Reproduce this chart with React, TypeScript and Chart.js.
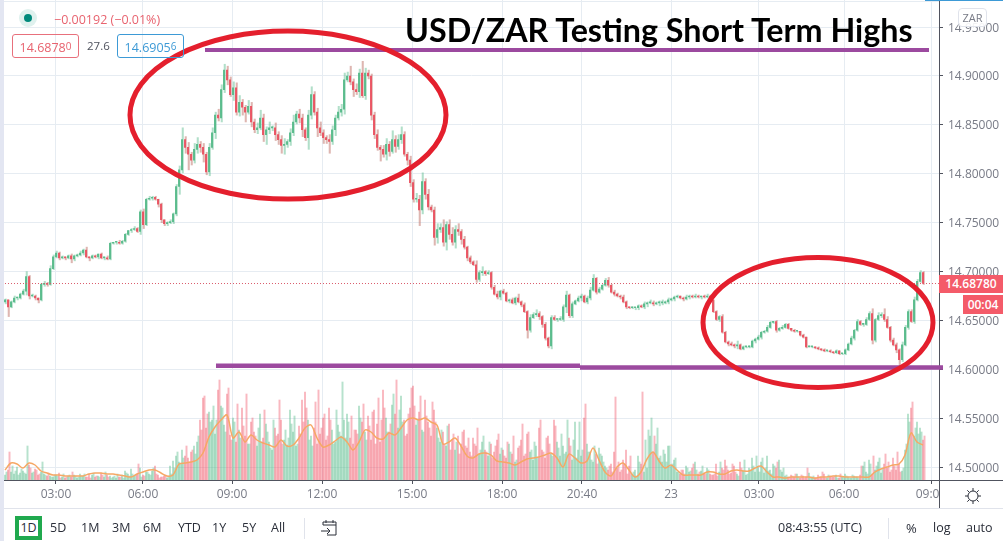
import React, { useEffect, useRef } from "react";
import { Chart, registerables } from "chart.js";

Chart.register(...registerables);

// one candle per slot; every candle opens where the one before closed
const closes = [
14.671,14.664,14.669,14.673,14.673,14.677,14.680,14.695,14.675,14.675,14.673,14.671,14.687,14.688,14.687,14.703,14.715,
14.719,14.714,14.715,14.714,14.716,14.713,14.716,14.717,14.719,14.722,14.715,14.714,14.716,14.715,14.718,14.714,14.714,14.713,
14.729,14.730,14.730,14.729,14.731,14.738,14.742,14.743,14.744,14.741,14.761,14.748,
14.774,14.775,14.776,14.774,14.769,14.753,14.749,14.750,14.751,14.759,
14.787,14.804,14.835,14.827,14.820,14.814,14.825,14.830,14.827,14.820,14.802,14.827,14.842,14.860,14.857,14.886,
14.906,14.896,14.881,14.888,14.863,14.873,14.868,14.863,14.869,14.853,14.845,14.847,14.857,14.840,14.845,14.847,14.847,14.840,
14.835,14.829,14.830,14.833,14.842,14.853,14.861,14.857,14.845,14.837,14.860,14.881,14.863,14.847,14.842,14.837,14.835,14.833,
14.845,14.857,14.863,14.866,14.896,14.900,14.894,14.886,14.884,14.903,14.880,14.903,14.900,14.860,
14.840,14.827,14.825,14.820,14.830,14.823,14.835,14.828,14.835,14.840,14.820,14.814,14.791,14.774,14.774,14.763,14.792,14.779,
14.766,14.763,14.735,14.743,14.745,14.730,14.748,14.738,14.730,14.743,14.741,14.733,14.725,14.714,14.710,14.707,14.692,14.699,
14.700,14.698,14.699,14.684,14.677,14.674,14.680,14.678,14.670,14.671,14.668,14.673,14.669,14.666,14.659,14.640,14.653,14.656,
14.657,14.654,14.646,14.632,14.624,14.653,14.651,14.651,14.651,14.664,14.676,14.655,14.667,14.670,14.673,14.675,14.669,14.673,
14.681,14.693,14.679,14.682,14.686,14.691,14.686,14.679,14.677,14.675,14.674,14.669,14.664,14.663,14.663,14.663,14.665,14.664,
14.667,14.668,14.668,14.667,14.668,14.668,14.668,14.669,14.671,14.672,14.674,14.675,14.673,14.672,14.674,14.675,14.674,14.675,
14.674,14.675,14.674,14.675,14.671,14.659,14.651,14.654,14.638,14.628,14.626,14.625,14.624,14.625,14.621,14.623,14.623,14.623,
14.629,14.631,14.633,14.638,14.639,14.643,14.648,14.649,14.640,14.642,14.643,14.646,14.642,14.640,14.639,14.639,14.635,14.633,
14.623,14.623,14.623,14.622,14.621,14.620,14.619,14.619,14.618,14.617,14.619,14.616,14.616,14.620,14.626,14.632,14.640,14.649,
14.646,14.646,14.651,14.657,14.630,14.651,14.655,14.656,14.651,14.643,14.630,14.625,14.620,14.610,14.625,14.643,14.659,14.649,
14.671,14.690,14.699,14.6878];
const firstOpen = 14.669;

// wick lengths above and below each candle body, in thousandths of a rand
const upperWick = [
1,0,1,2,1,1,2,5,1,2,1,0,1,2,1,3,2,
2,1,1,0,1,2,1,1,2,1,3,0,1,1,0,1,1,2,
1,0,1,2,1,1,0,1,2,1,2,3,
1,2,1,1,0,1,0,1,2,1,
2,4,12,3,5,2,6,7,3,4,2,4,5,3,6,5,
6,4,3,6,5,7,3,2,6,4,3,5,8,4,3,6,2,5,3,4,6,2,4,7,3,5,4,2,5,8,3,4,6,3,2,5,4,3,6,5,7,4,10,3,6,4,12,5,3,2,
3,5,2,4,6,3,9,4,5,8,3,2,4,3,6,4,9,3,5,2,3,6,4,8,3,5,7,4,6,2,3,1,2,1,4,2,5,1,2,
1,2,3,1,2,1,1,2,1,4,1,2,1,3,2,4,2,1,2,1,
2,2,1,3,2,4,1,2,1,2,2,1,2,3,4,1,2,1,2,3,1,2,1,1,2,1,0,1,0,1,1,2,1,3,2,1,2,3,1,2,1,1,1,0,1,2,1,1,2,1,0,1,2,1,
0,1,1,2,1,1,2,1,4,1,1,0,1,1,1,2,1,1,2,1,0,1,1,2,1,1,0,1,0,0,1,0,1,0,0,1,0,1,0,1,0,1,0,0,
1,1,2,1,2,1,1,2,2,5,1,3,2,6,3,1,2,2,1,3,2,2,2,3,2,2,1];
const lowerWick = [
2,10,1,1,2,1,1,4,3,1,2,3,1,2,2,1,1,
1,2,1,2,1,4,2,1,1,2,1,3,1,1,2,1,2,1,
1,1,2,1,1,1,1,2,1,1,3,4,
1,1,2,1,3,3,2,2,1,2,
2,8,3,6,16,5,3,4,5,8,3,4,2,6,3,4,
3,5,2,6,3,4,8,10,2,5,3,4,2,7,10,4,3,6,5,8,9,3,4,3,2,5,7,3,12,4,3,9,3,6,4,12,3,6,2,4,5,2,3,7,3,6,2,4,3,5,
4,3,12,3,6,5,2,6,3,4,2,5,4,3,3,16,4,5,3,2,8,6,3,4,8,5,3,6,4,5,2,3,2,1,3,2,3,2,1,
2,1,2,3,1,1,2,1,2,1,2,1,8,2,1,2,3,3,2,2,
3,1,2,1,2,6,2,2,1,1,3,1,2,2,1,2,1,1,1,2,1,2,1,2,1,2,1,1,2,2,1,2,3,1,2,1,3,2,1,2,1,2,1,1,2,1,2,1,1,1,2,1,1,2,
1,1,2,1,1,2,1,2,3,1,1,1,1,1,2,1,2,1,1,1,1,2,1,1,1,1,1,1,1,1,1,1,0,1,1,1,1,1,1,1,1,1,1,1,
1,1,1,2,1,1,2,1,1,4,2,1,2,2,1,2,1,3,6,2,1,2,1,2,1,1,1];

// two volume bars per candle slot, coloured like the candle they belong to
const volumeFirst = [
5,10,8,6,13,7,9,6,15,7,11,5,8,6,4,
4,3,5,7,3,2,4,3,5,2,6,4,3,6,5,3,4,7,3,5,4,3,2,3,5,9,6,11,4,6,12,5,8,6,9,14,5,3,4,2,
14,19,24,18,30,24,22,28,34,38,
60,82,52,68,60,46,90,74,55,86,
45,62,38,50,72,44,36,58,48,34,66,42,56,38,30,52,46,60,40,35,70,48,34,54,80,88,60,44,52,36,
46,62,40,72,50,38,55,44,60,66,42,36,50,74,58,48,64,40,70,56,38,90,62,48,75,66,52,84,60,46,72,94,55,68,50,80,58,44,70,52,38,
48,34,56,40,30,44,36,50,32,28,42,34,26,38,30,24,36,28,40,26,
30,22,36,26,18,32,40,24,46,28,20,34,52,30,22,44,26,60,38,24,34,28,42,20,58,30,24,62,36,28,18,26,32,24,14,
10,16,28,12,8,20,30,14,6,10,24,16,8,12,44,28,36,22,18,26,34,14,20,8,6,10,14,8,12,18,6,9,7,12,6,
5,16,8,12,20,10,7,14,6,18,9,5,12,22,8,14,18,7,24,10,16,12,20,8,4,
3,5,3,6,2,4,3,7,3,2,5,3,6,2,4,3,5,2,3,6,3,2,4,3,5,14,8,20,6,
10,18,7,16,12,8,22,10,16,9,30,66,72,44,58,52,40];
const volumeSecond = [
8,28,14,9,5,11,7,34,12,8,10,6,18,5,7,
3,5,4,2,6,3,5,8,4,3,4,6,3,2,7,4,3,5,8,3,2,4,6,3,2,7,4,6,5,16,3,4,8,5,12,6,2,3,5,4,
6,12,28,16,22,34,18,30,26,44,
50,84,66,58,74,60,100,72,48,92,
40,58,76,42,54,86,36,62,44,52,38,70,48,32,60,44,80,36,50,42,56,64,36,46,58,72,40,34,78,90,
52,66,44,60,36,70,48,98,42,58,64,50,46,62,76,40,54,68,36,82,60,72,48,56,86,100,70,58,44,66,92,74,60,84,48,64,52,78,58,42,50,
36,54,30,46,38,26,48,34,42,24,36,52,30,44,28,38,22,34,46,32,
24,38,28,44,20,34,56,26,48,30,38,22,60,28,42,36,24,54,32,46,26,60,34,40,22,58,30,76,28,20,34,16,26,18,12,
14,8,83,18,10,16,6,24,8,4,18,88,40,50,62,44,52,24,30,18,34,16,22,8,10,6,12,9,16,10,8,14,6,10,5,
6,4,18,10,14,6,16,8,4,12,20,6,10,14,24,8,22,12,9,6,14,18,10,12,5,
2,4,6,3,5,2,12,3,4,2,3,8,2,5,3,4,2,6,3,4,2,5,3,2,14,18,6,16,24,
14,22,12,26,18,10,14,28,8,12,36,58,78,52,46,48,44];
// volume moving average, one value every second slot
const volumeAverage = [
10,17,16,12,17,15,9,7,5,5,4,4,4,4,6,7,7,6,6,5,4,3,6,8,10,10,7,4,5,16,17,18,20,27,43,53,60,65,42,48,38,45,40,37,35,33,40,34,35,42,52,55,42,33,35,39,43,38,30,38,50,48,42,41,47,45,52,60,62,60,62,58,55,36,38,42,34,24,22,26,27,25,
19,18,17,15,18,21,22,23,25,27,22,13,26,22,17,19,32,20,8,4,13,17,10,3,8,21,28,19,12,15,10,5,5,5,5,8,8,6,6,9,10,9,9,12,14,8,3,3,2,3,3,3,3,2,3,3,4,4,3,3,3,3,3,8,11,13,15,16,25,47,38,35];

const priceTicks = [14.5, 14.55, 14.6, 14.65, 14.7, 14.75, 14.8, 14.85, 14.9, 14.95];
const timeLabels = ["03:00", "06:00", "09:00", "12:00", "15:00", "18:00", "20:40", "23", "03:00", "06:00", "09:00"];
const timeSlots = [17, 46, 75.67, 105.67, 135.67, 165.67, 192.33, 222, 251.33, 279.67, 308.67];
const lastPrice = 14.6878;
const resistanceLine = [{ x: 66.67, y: 14.9266 }, { x: 308, y: 14.9266 }];
const supportLineA = [{ x: 70.33, y: 14.6036 }, { x: 191.67, y: 14.6036 }];
const supportLineB = [{ x: 191.67, y: 14.602 }, { x: 312.67, y: 14.602 }];
// centre slot, centre price, half width in slots, half height in price
const ellipses = [
  [94.33, 14.86, 52.67, 0.0859],
  [271, 14.648, 38.33, 0.0665],
];
const rangeButtons = [["5D", 58], ["1M", 89], ["3M", 120], ["6M", 151], ["YTD", 186], ["1Y", 220], ["5Y", 250], ["All", 279]] as const;

const UP = "#53b987";
const DOWN = "#eb4d5c";
const FONT = '"Open Sans", sans-serif';

const opens = closes.map((_, i) => (i === 0 ? firstOpen : closes[i - 1]));
const candleColors = closes.map((c, i) => (c >= opens[i] ? UP : DOWN));
const wickColors = closes.map((c, i) => (c >= opens[i] ? "rgba(83,185,135,0.45)" : "rgba(190,110,100,0.5)"));
const volumeColors = closes.map((c, i) => (c >= opens[i] ? "rgba(83,185,135,0.42)" : "rgba(240,85,105,0.42)"));

const ellipsePlugin = {
  id: "ellipses",
  afterDatasetsDraw(chart: any) {
    const { ctx, scales } = chart;
    ctx.save();
    ctx.strokeStyle = "#e41f2d";
    ctx.lineWidth = 5;
    for (const [cx, cy, rx, ry] of ellipses) {
      const px = scales.x.getPixelForValue(cx);
      const py = scales.y.getPixelForValue(cy);
      const prx = Math.abs(scales.x.getPixelForValue(cx + rx) - px);
      const pry = Math.abs(scales.y.getPixelForValue(cy + ry) - py);
      ctx.beginPath();
      ctx.ellipse(px, py, prx, pry, 0, 0, Math.PI * 2);
      ctx.stroke();
    }
    ctx.restore();
  },
};

function Tag(props: { x: number; y: number; w: number; h: number; bg?: string; color?: string; border?: string; size?: number; weight?: number; radius?: number; children?: React.ReactNode; font?: string }) {
  const { x, y, w, h, bg, color, border, size = 12, weight = 400, radius = 0, children, font = FONT } = props;
  return (
    <div style={{ position: "absolute", left: x, top: y, width: w, height: h, lineHeight: `${h - (border ? 2 : 0)}px`, background: bg, color, border, borderRadius: radius, boxSizing: "border-box", fontSize: size, fontWeight: weight, fontFamily: font, textAlign: "center", whiteSpace: "nowrap" }}>
      {children}
    </div>
  );
}

function Label(props: { x: number; y: number; color?: string; size?: number; children?: React.ReactNode }) {
  const { x, y, color = "#3a3d48", size = 13, children } = props;
  return (
    <div style={{ position: "absolute", left: x, top: y, color, fontSize: size, lineHeight: "18px", fontFamily: FONT, whiteSpace: "nowrap" }}>{children}</div>
  );
}

export default function App() {
  const ref = useRef<HTMLCanvasElement>(null);
  useEffect(() => {
    const slots = closes.map((_, i) => i);
    const chart = new Chart(ref.current as HTMLCanvasElement, {
      type: "bar",
      data: {
        datasets: [
          { type: "line", data: resistanceLine, borderColor: "#9c4a9f", borderWidth: 4, pointRadius: 0, clip: false, order: 0, yAxisID: "y" },
          { type: "line", data: supportLineA, borderColor: "#9c4a9f", borderWidth: 4.5, pointRadius: 0, clip: false, order: 0, yAxisID: "y" },
          { type: "line", data: supportLineB, borderColor: "#9c4a9f", borderWidth: 4.5, pointRadius: 0, clip: false, order: 0, yAxisID: "y" },
          { type: "line", data: [{ x: -1, y: lastPrice }, { x: 312, y: lastPrice }], borderColor: "#d9596a", borderWidth: 1, borderDash: [1, 2], pointRadius: 0, order: 1, yAxisID: "y" },
          { type: "bar", data: slots.map((i) => ({ x: i, y: [opens[i], closes[i]] })), backgroundColor: candleColors, barThickness: 1.15, minBarLength: 1, order: 2, yAxisID: "y" },
          { type: "bar", data: slots.map((i) => ({ x: i + 0.25, y: [Math.min(opens[i], closes[i]) - lowerWick[i] / 1000, Math.max(opens[i], closes[i]) + upperWick[i] / 1000] })), backgroundColor: wickColors, barThickness: 1.4, order: 3, yAxisID: "y" },
          { type: "line", data: volumeAverage.map((v, k) => ({ x: k * 2, y: v })), borderColor: "#f6a865", borderWidth: 1.5, pointRadius: 0, tension: 0.3, order: 4, yAxisID: "volume" },
          { type: "bar", data: slots.map((i) => ({ x: i, y: volumeFirst[i] })), backgroundColor: volumeColors, barThickness: 1.3, order: 5, yAxisID: "volume" },
          { type: "bar", data: slots.map((i) => ({ x: i + 0.5, y: volumeSecond[i] })), backgroundColor: volumeColors, barThickness: 1.3, order: 6, yAxisID: "volume" },
        ] as any,
      },
      options: {
        responsive: false,
        animation: false,
        devicePixelRatio: 1,
        layout: { padding: { left: 4, top: 0, right: 0, bottom: 0 } },
        plugins: { legend: { display: false }, tooltip: { enabled: false }, title: { display: false } },
        datasets: { bar: { grouped: false, borderSkipped: false } } as any,
        scales: {
          x: {
            type: "linear",
            offset: false,
            min: -0.333,
            max: 311.333,
            grid: { offset: false, color: "#e6ecf2", lineWidth: 1, tickColor: "#50535e", tickLength: 4 },
            border: { color: "#50535e" },
            afterBuildTicks: (s: any) => { s.ticks = timeSlots.map((value) => ({ value })); },
            afterFit: (s: any) => { s.height = 61; s.paddingLeft = 0; s.paddingRight = 0; },
            ticks: {
              autoSkip: false,
              maxRotation: 0,
              padding: 3,
              color: "#787b86",
              font: { family: "Open Sans", size: 12 },
              callback: (_v: any, i: number) => timeLabels[i],
            },
          },
          y: {
            position: "right",
            min: 14.4869,
            max: 14.9777,
            grid: { color: "#e6ecf2", lineWidth: 1, tickColor: "#50535e", tickLength: 4 },
            border: { color: "#50535e" },
            afterBuildTicks: (s: any) => { s.ticks = priceTicks.map((value) => ({ value })); },
            afterFit: (s: any) => { s.width = 64; s.paddingTop = 0; s.paddingBottom = 0; },
            ticks: {
              padding: 5,
              labelOffset: 1,
              color: "#787b86",
              font: { family: "Open Sans", size: 12 },
              callback: (v: any) => Number(v).toFixed(5),
            },
          },
          volume: { display: false, min: 0, max: 480 },
        },
      } as any,
      plugins: [ellipsePlugin],
    });
    return () => chart.destroy();
  }, []);

  return (
    <div style={{ position: "fixed", left: 0, top: 0, width: 1003, height: 541, background: "#fff", overflow: "hidden" }}>
      <canvas ref={ref} width={1003} height={541} style={{ position: "absolute", left: 0, top: 0, width: 1003, height: 541 }} />
      {/* left window strip, top strip, axis extensions */}
      <div style={{ position: "absolute", left: 0, top: 0, width: 4, height: 541, background: "#e3e6f2" }} />
      <div style={{ position: "absolute", left: 4, top: 1, width: 935, height: 1, background: "#e6ecf2" }} />
      <div style={{ position: "absolute", left: 925, top: 0, width: 78, height: 1, background: "#3d9ad6" }} />
      <div style={{ position: "absolute", left: 940, top: 481, width: 63, height: 27, background: "#fff" }} />
      <div style={{ position: "absolute", left: 939, top: 480, width: 64, height: 1, background: "#50535e" }} />
      <div style={{ position: "absolute", left: 939, top: 480, width: 1, height: 28, background: "#50535e" }} />
      <div style={{ position: "absolute", left: 4, top: 508, width: 999, height: 1, background: "#e0e3eb" }} />

      {/* title */}
      <div style={{ position: "absolute", left: 405, top: 8, color: "#000", fontFamily: "Lato, sans-serif", fontWeight: 700, fontSize: 32.25, lineHeight: "44px", whiteSpace: "nowrap", background: "transparent" }}>
        USD/ZAR Testing Short Term Highs
      </div>

      {/* legend */}
      <div style={{ position: "absolute", left: 19, top: 9, width: 18, height: 18, borderRadius: 9, background: "#dff1ee" }} />
      <div style={{ position: "absolute", left: 24, top: 14, width: 8, height: 8, borderRadius: 4, background: "#00897b" }} />
      <Label x={54} y={11} color="#e8636f" size={12.5}>−0.00192 (−0.01%)</Label>
      <Tag x={12} y={34} w={67} h={24} border="1px solid #e8707c" color="#e8636f" radius={3} size={12.5}>14.6878<span style={{ fontSize: 10, verticalAlign: 2 }}>0</span></Tag>
      <Label x={87} y={37} color="#50535e" size={11.5}>27.6</Label>
      <Tag x={117} y={34} w={67} h={24} border="1px solid #3d9ad6" color="#3d9ad6" radius={3} size={12.5}>14.6905<span style={{ fontSize: 10, verticalAlign: 2 }}>6</span></Tag>

      {/* ZAR badge */}
      <Tag x={958} y={8} w={29} h={19} border="1px solid #e0e3eb" color="#787b86" radius={4} size={11} bg="rgba(255,255,255,0.9)">ZAR</Tag>

      {/* price tags */}
      <Tag x={939} y={275} w={64} h={18} bg="#f45b69" color="#fff" size={12} weight={600}>14.68780</Tag>
      <Tag x={963} y={295} w={40} h={19} bg="#f45b69" color="#fff" size={12} weight={600}>00:04</Tag>

      {/* gear */}
      <svg style={{ position: "absolute", left: 964, top: 487 }} width={18} height={18} viewBox="0 0 18 18" fill="none" stroke="#2a2e39" strokeWidth={1}>
        <circle cx={9} cy={9} r={5} />
        <path d="M9 1v3M9 14v3M1 9h3M14 9h3M3.3 3.3l2 2M12.7 12.7l2 2M3.3 14.7l2-2M12.7 5.3l2-2" />
      </svg>

      {/* toolbar */}
      <div style={{ position: "absolute", left: 15, top: 516, width: 27, height: 24, border: "4px solid #20a94e", boxSizing: "border-box", background: "#fff", color: "#2a2e39", fontFamily: FONT, fontSize: 12.5, lineHeight: "16px", textAlign: "center" }}>1D</div>
      {rangeButtons.map(([t, x]) => (
        <Label key={t} x={x - 8} y={519} size={12.5} color="#2a2e39">{t}</Label>
      ))}
      <div style={{ position: "absolute", left: 304, top: 518, width: 1, height: 21, background: "#e0e3eb" }} />
      <svg style={{ position: "absolute", left: 320, top: 519 }} width={19} height={18} viewBox="0 0 19 18" fill="none" stroke="#2a2e39" strokeWidth={1}>
        <path d="M3 6V3h13v13H7M3 6h13M6 1v3M13 1v3M1 12h9M7 9l3 3-3 3" />
      </svg>
      <Label x={778} y={519} size={12.5} color="#2a2e39">08:43:55 (UTC)</Label>
      <div style={{ position: "absolute", left: 888, top: 518, width: 1, height: 21, background: "#e0e3eb" }} />
      <Label x={906} y={519} size={13} color="#2a2e39">%</Label>
      <Label x={933} y={519} size={12.5} color="#2a2e39">log</Label>
      <Label x={966} y={519} size={12.5} color="#2a2e39">auto</Label>
    </div>
  );
}
